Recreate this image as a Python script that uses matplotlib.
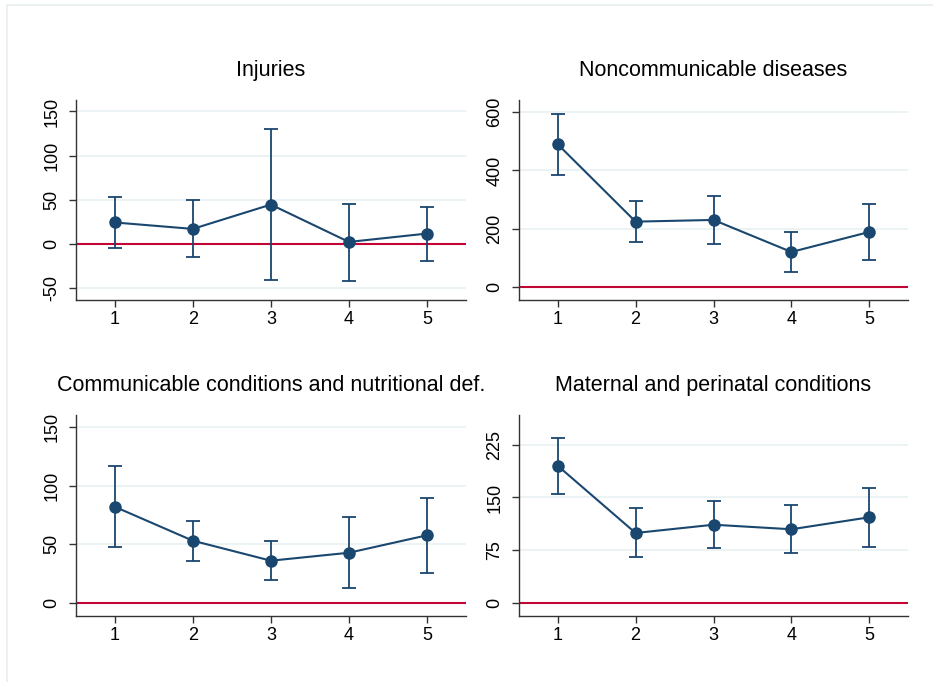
import matplotlib
matplotlib.use("Agg")
import matplotlib.pyplot as plt
from matplotlib.lines import Line2D

plt.rcParams['font.family'] = ['Liberation Sans', 'DejaVu Sans']

groups = [1, 2, 3, 4, 5]

titles = ["Injuries", "Noncommunicable diseases",
          "Communicable conditions and nutritional def.",
          "Maternal and perinatal conditions"]

inj_est = [24, 16.7, 44.3, 1.9, 11.4]
inj_lo = [-5.3, -15.5, -41.3, -42, -19.7]
inj_hi = [53, 49, 130.3, 45.5, 42]

ncd_est = [489.7, 224.7, 230.5, 120.9, 189.4]
ncd_lo = [383.6, 155, 149.3, 51.4, 92.5]
ncd_hi = [593.5, 294.5, 311.6, 190.4, 285.3]

com_est = [82, 53, 35.9, 42.7, 57.6]
com_lo = [47.4, 35.9, 19.7, 12.8, 25.6]
com_hi = [116.8, 69.8, 52.5, 73.5, 89.2]

mat_est = [195.3, 99.4, 111.2, 104.7, 121.8]
mat_lo = [155.4, 65.2, 78, 70.9, 79.8]
mat_hi = [234.8, 134.6, 145.4, 138.9, 163.5]

yticks = [[-50, 0, 50, 100, 150], [0, 200, 400, 600],
          [0, 50, 100, 150], [0, 75, 150, 225]]
ylims = [(-64, 163), (-43.5, 641), (-11.1, 160.4), (-18.5, 267.6)]

data = [(inj_est, inj_lo, inj_hi), (ncd_est, ncd_lo, ncd_hi),
        (com_est, com_lo, com_hi), (mat_est, mat_lo, mat_hi)]

W, H = 933, 682
fig = plt.figure(figsize=(W / 100, H / 100), dpi=100)
fig.patch.set_facecolor('white')

# outer light border (top and left visible)
fig.add_artist(Line2D([7 / W, 1.0], [1 - 5 / H, 1 - 5 / H], color='#e8eeee', lw=1.2, transform=fig.transFigure))
fig.add_artist(Line2D([7 / W, 7 / W], [0, 1 - 5 / H], color='#e8eeee', lw=1.2, transform=fig.transFigure))

boxes = [(75.7, 466, 100, 300), (518.7, 908.3, 100, 300),
         (75.7, 466, 415, 615.7), (518.7, 908.3, 415, 615.7)]

navy = '#1a476f'
red = '#c10534'

for i, (l, r, t, b) in enumerate(boxes):
    ax = fig.add_axes([l / W, 1 - b / H, (r - l) / W, (b - t) / H])
    est, lo, hi = data[i]
    yerr = [[e - a for e, a in zip(est, lo)], [h - e for e, h in zip(est, hi)]]
    for yt in yticks[i]:
        ax.axhline(yt, color='#eaf2f3', lw=1.3, zorder=0)
    ax.axhline(0, color=red, lw=1.5, zorder=1)
    ax.errorbar(groups, est, yerr=yerr, fmt='o-', color=navy, ecolor=navy,
                elinewidth=1.3, capsize=5, capthick=1.3, lw=1.5, markersize=8, zorder=3)
    ax.set_xlim(0.5, 5.5)
    ax.set_ylim(*ylims[i])
    ax.set_xticks(groups)
    ax.set_yticks(yticks[i])
    ax.set_yticklabels([str(v) for v in yticks[i]], rotation=90, va='center')
    ax.tick_params(axis='both', labelsize=13, length=5, width=1, color='#333333')
    ax.tick_params(axis='y', pad=6)
    ax.tick_params(axis='x', pad=3)
    for s in ['top', 'right']:
        ax.spines[s].set_visible(False)
    for s in ['left', 'bottom']:
        ax.spines[s].set_color('#333333')
        ax.spines[s].set_linewidth(1)
    ax.set_title(titles[i], fontsize=15.5, pad=17)

fig.savefig('out.png', dpi=100, facecolor='white')
